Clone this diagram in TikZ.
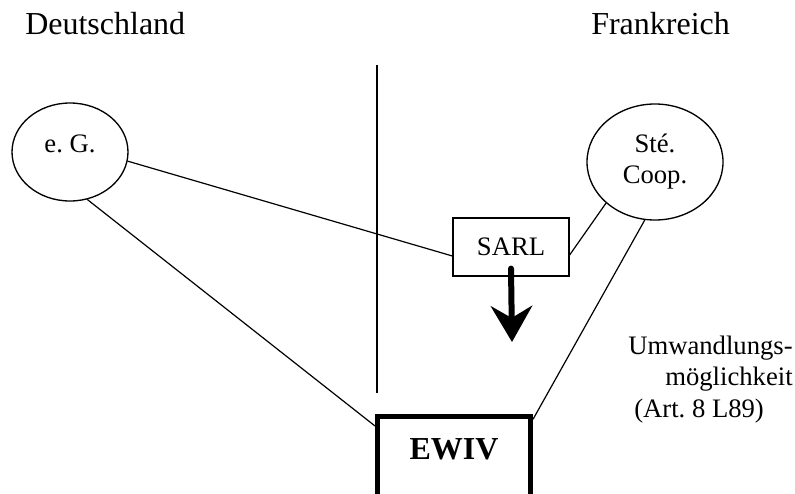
\documentclass[tikz,border=0pt]{standalone}
\usepackage{fontspec}
\setmainfont{Liberation Serif}
\usetikzlibrary{shapes.geometric, arrows.meta}

\begin{document}
\begin{tikzpicture}[x=0.75pt, y=-0.75pt,
    every node/.style={inner sep=0pt, font=\fontsize{20}{23.25}\selectfont},
    land/.style={anchor=base west, font=\fontsize{24}{28}\selectfont},
    member/.style={ellipse, draw, line width=1pt},
    link/.style={line width=0.9pt},
    convert/.style={line width=4.5pt, line cap=round, -{Stealth[length=27pt, width=31pt, inset=9pt]}},
    note/.style={anchor=base west}]
    \useasboundingbox (0,0) rectangle (795,493);
    \clip (0,0) rectangle (795,493);
    \node[land] (de) at (25,34) {Deutschland};
    \node[land] (fr) at (591,34) {Frankreich};
    \coordinate (divtop) at (377,65);
    \coordinate (divbot) at (377,393);
    \draw[link] (divtop) -- (divbot);
    \node[member, minimum width=87pt, minimum height=73.5pt, text height=14pt, text depth=14pt] (eg) at (70,152) {e.~G.};
    \node[member, minimum width=102pt, minimum height=87pt, align=center] (ste) at (655,162) {Sté.\\Coop.};
    \node[draw, line width=0.9pt, minimum width=87pt, minimum height=43.5pt] (sarl) at (511,247) {SARL};
    \node[draw, line width=3.75pt, minimum width=114.75pt, anchor=base, text height=31.9pt, text depth=30pt, font=\fontsize{24}{28}\selectfont\bfseries] (ewiv) at (454,459) {EWIV};
    \coordinate (sarlarrow) at (512,342);
    \draw[convert] ([yshift=6pt]sarl.south) -- (sarlarrow);
    \draw[link] (eg.-9) -- ([yshift=-6.75pt]sarl.west);
    \draw[link] (eg.-70) -- ([yshift=-9pt]ewiv.north west);
    \draw[link] (ste.-140) -- ([yshift=-6pt]sarl.east);
    \draw[link] (ste.-100) -- ([yshift=-4pt]ewiv.north east);
    \node[note] (umw1) at (628,354) {Umwandlungs-};
    \node[note] (umw2) at (665,385) {möglichkeit};
    \node[note] (umw3) at (634,417) {(Art.~8~L89)};
\end{tikzpicture}
\end{document}
